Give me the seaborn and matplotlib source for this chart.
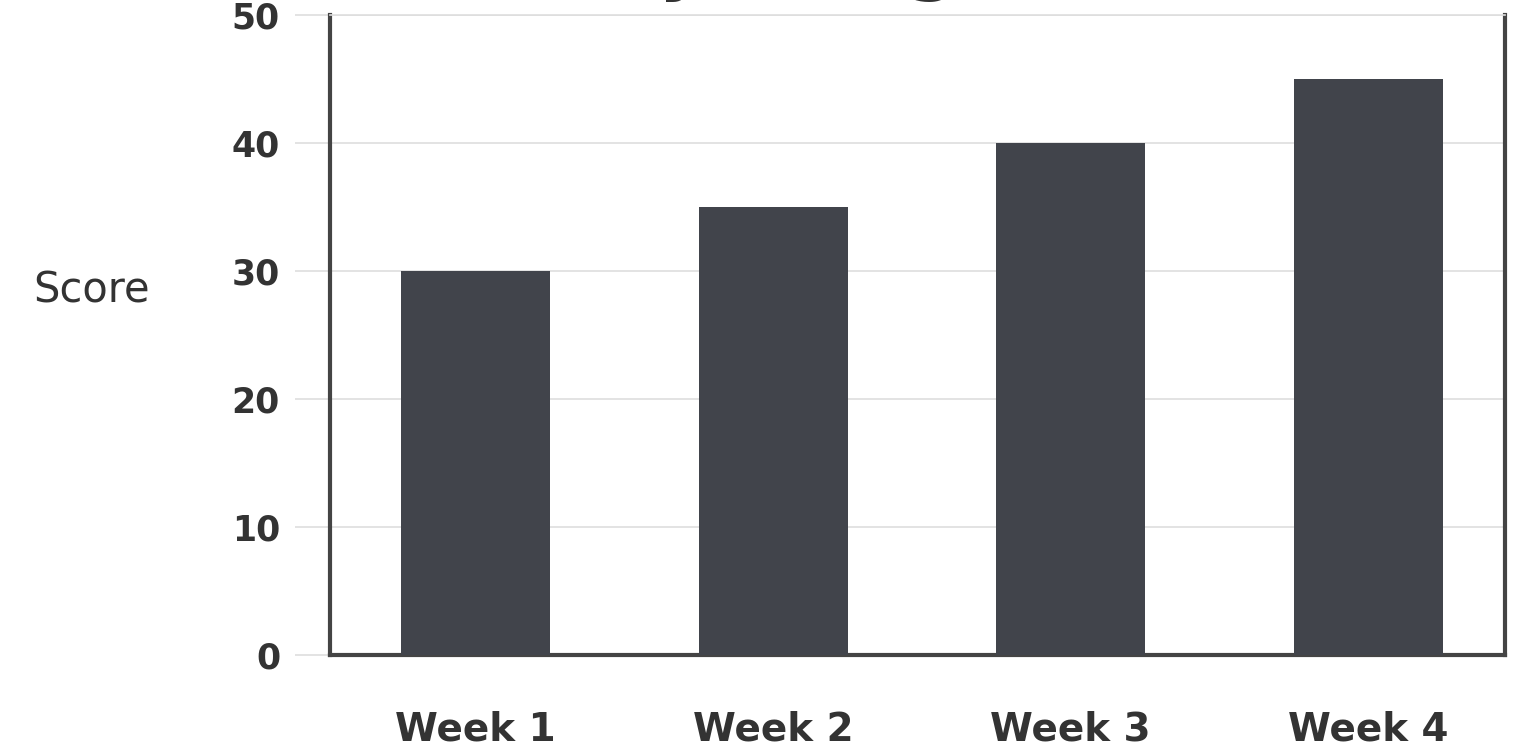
import matplotlib
matplotlib.use("Agg")
import matplotlib.pyplot as plt
import seaborn as sns
import pandas as pd

weeks = ["Week 1", "Week 2", "Week 3", "Week 4"]
scores = [30, 35, 40, 45]
yticks = [0, 10, 20, 30, 40, 50]
title_text = "Weekly Progress"
ylabel_text = "Score"

sns.set_theme(style="white")
plt.rcParams["font.family"] = ["DejaVu Sans"]

df = pd.DataFrame({"week": weeks, "score": scores})

fig = plt.figure(figsize=(15.27, 7.52), dpi=100)
ax = fig.add_axes([330 / 1527, 1 - 655 / 752, 1175 / 1527, 640 / 752])

sns.barplot(data=df, x="week", y="score", color="#41444b", width=0.5,
            saturation=1, linewidth=0, ax=ax, zorder=3)

ax.set_ylim(0, 50)
ax.set_xlim(-0.49, 3.46)
ax.set_yticks(yticks)
ax.set_yticklabels([str(v) for v in yticks], fontsize=25, fontweight="bold", color="#333333")
ax.set_xticks(range(len(weeks)))
ax.set_xticklabels(weeks, fontsize=28, fontweight="bold", color="#333333")
ax.grid(axis="y", color="#dedede", linewidth=1.2, zorder=0)
ax.tick_params(axis="y", length=25, color="#dedede", width=1.2, pad=11, left=True)
ax.tick_params(axis="x", length=0, pad=40)

ax.set_xlabel("")
ax.set_ylabel(ylabel_text, fontsize=30, rotation=0, color="#333333", ha="center", va="center")
ax.yaxis.set_label_coords(-0.2026, 0.57)

for side in ["left", "bottom", "right"]:
    ax.spines[side].set_color("#444444")
    ax.spines[side].set_linewidth(3)
ax.spines["top"].set_color("#dedede")
ax.spines["top"].set_linewidth(1.2)

fig.text(0.5, 1 + 18 / 752, title_text, ha="center", va="baseline",
         fontsize=70, color="#333333")

fig.savefig("out.png", dpi=100)
